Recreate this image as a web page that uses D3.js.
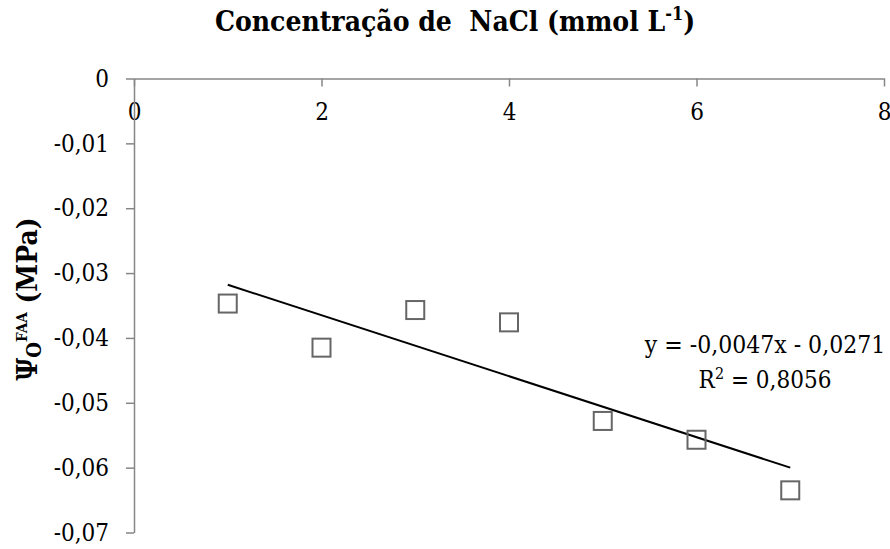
<!DOCTYPE html>
<html>
<head>
<meta charset="utf-8">
<script src="https://cdn.jsdelivr.net/npm/d3@7"></script>
<style>
  html, body { margin: 0; padding: 0; background: #ffffff; }
  svg { display: block; }
  text { font-family: "DejaVu Serif", "Liberation Serif", serif; font-stretch: condensed; fill: #000; }
</style>
</head>
<body>
<svg id="chart" width="890" height="549"></svg>
<script>
// NaCl concentration (mmol L-1) and measured osmotic potential (MPa)
const concentrations = [1, 2, 3, 4, 5, 6, 7];
const potentials = [-0.0347, -0.0415, -0.0357, -0.0376, -0.0528, -0.0557, -0.0635];

// Axis ticks
const xTicks = [0, 2, 4, 6, 8];
const yTicks = [0, -0.01, -0.02, -0.03, -0.04, -0.05, -0.06, -0.07];

// Linear fit reported on the chart
const fitSlope = -0.0047;
const fitIntercept = -0.0271;
const fitR2 = 0.8056;
const fitRange = [1, 7];

// Decimal comma and plain hyphen for negatives
const fmt = v => (v === 0 ? "0" : (v < 0 ? "-" : "") + Math.abs(v).toFixed(2).replace(".", ","));
const fmt4 = v => Math.abs(v).toFixed(4).replace(".", ",");

const svg = d3.select("#chart");

const x = d3.scaleLinear().domain([0, 8]).range([134, 884]);
const y = d3.scaleLinear().domain([0, -0.07]).range([78.5, 532.5]);

const axisColor = "#868686";
const tickFont = 24;

// x axis sits along y = 0, ticks pointing down into the plot
const gx = svg.append("g")
  .attr("transform", `translate(0,${y(0)})`)
  .call(d3.axisBottom(x).tickValues(xTicks).tickSizeInner(8).tickSizeOuter(0).tickPadding(16).tickFormat(d3.format("d")));

// y axis
const gy = svg.append("g")
  .attr("transform", `translate(${x(0)},0)`)
  .call(d3.axisLeft(y).tickValues(yTicks).tickSizeInner(8).tickSizeOuter(0).tickPadding(17).tickFormat(fmt));

[gx, gy].forEach(g => {
  g.attr("font-family", null).attr("font-size", null);
  g.select(".domain").attr("stroke", axisColor).attr("stroke-width", 1.5);
  g.selectAll(".tick line").attr("stroke", axisColor).attr("stroke-width", 1.5);
  g.selectAll(".tick text")
    .attr("font-size", tickFont)
    .attr("fill", "#000");
});

// Trend line
svg.append("line")
  .attr("x1", x(fitRange[0]))
  .attr("y1", y(fitSlope * fitRange[0] + fitIntercept))
  .attr("x2", x(fitRange[1]))
  .attr("y2", y(fitSlope * fitRange[1] + fitIntercept))
  .attr("stroke", "#000")
  .attr("stroke-width", 2);

// Data markers: open squares
const side = 18;
svg.append("g")
  .selectAll("rect")
  .data(concentrations.map((c, i) => ({ c, v: potentials[i] })))
  .join("rect")
  .attr("x", d => x(d.c) - side / 2)
  .attr("y", d => y(d.v) - side / 2)
  .attr("width", side)
  .attr("height", side)
  .attr("fill", "none")
  .attr("stroke", "#666666")
  .attr("stroke-width", 2);

// Fit equation
svg.append("text")
  .attr("x", 765)
  .attr("y", 353)
  .attr("text-anchor", "middle")
  .attr("font-size", 24.5)
  .text(`y = -${fmt4(fitSlope)}x - ${fmt4(fitIntercept)}`);

const r2 = svg.append("text")
  .attr("x", 765)
  .attr("y", 388)
  .attr("text-anchor", "middle")
  .attr("font-size", 24);
r2.append("tspan").text("R");
r2.append("tspan").attr("font-size", 16).attr("dy", -9).text("2");
r2.append("tspan").attr("dy", 9).text(` = ${fmt4(fitR2)}`);

// Title
const title = svg.append("text")
  .attr("x", 455)
  .attr("y", 31)
  .attr("text-anchor", "middle")
  .attr("font-size", 28)
  .attr("font-weight", "bold")
  .style("white-space", "pre");
title.append("tspan").text("Concentração de  NaCl (mmol L");
title.append("tspan").attr("font-size", 18).attr("dy", -11).text("-1");
title.append("tspan").attr("dy", 11).text(")");

// y axis title
const yt = svg.append("text")
  .attr("transform", "translate(37,299) rotate(-90)")
  .attr("text-anchor", "middle")
  .attr("font-size", 28)
  .attr("font-weight", "bold");
yt.append("tspan").text("Ψ");
yt.append("tspan").attr("font-size", 20).attr("dy", 4).text("O");
yt.append("tspan").attr("font-size", 15).attr("dy", -14).text("FAA");
yt.append("tspan").attr("dy", 10).text(" (MPa)");
</script>
</body>
</html>
